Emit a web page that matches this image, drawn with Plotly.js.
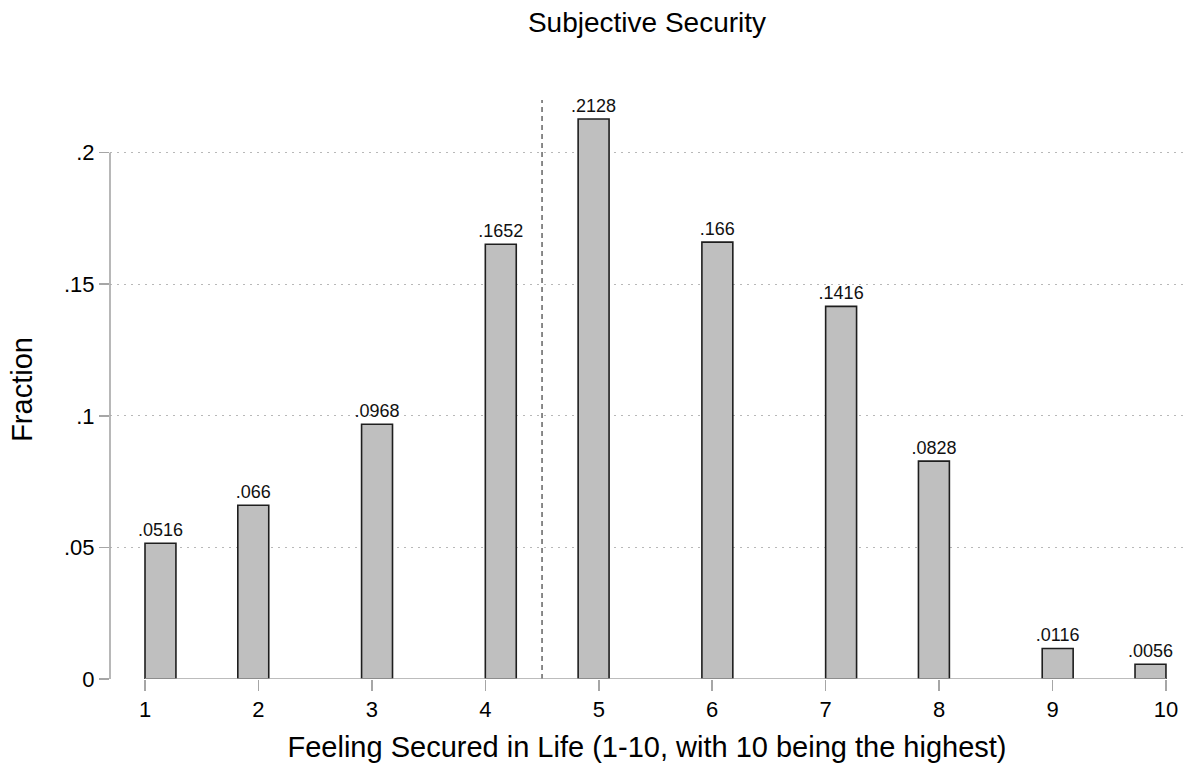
<!DOCTYPE html>
<html>
<head>
<meta charset="utf-8">
<script src="https://cdn.plot.ly/plotly-3.0.1.min.js"></script>
<style>
  html, body { margin: 0; padding: 0; background: #ffffff; }
  #chart { width: 1184px; height: 763px; }
</style>
</head>
<body>
<div id="chart"></div>
<script>
// ---- data ----
const scores = [1, 2, 3, 4, 5, 6, 7, 8, 9, 10];
const fractions = [0.0516, 0.066, 0.0968, 0.1652, 0.2128, 0.166, 0.1416, 0.0828, 0.0116, 0.0056];
const xTickVals = [1, 2, 3, 4, 5, 6, 7, 8, 9, 10];
const xTickText = ['1', '2', '3', '4', '5', '6', '7', '8', '9', '10'];
const yTickVals = [0, 0.05, 0.1, 0.15, 0.2];
const yTickText = ['0', '.05', '.1', '.15', '.2'];
const referenceLine = 4.5;

// histogram binning (33 bins from 1 to 10)
const binStart = 1, binEnd = 10, nBins = 33;
const binWidth = (binEnd - binStart) / nBins;
const barX = scores.map(v => {
  let idx = Math.floor((v - binStart) / binWidth + 1e-9);
  if (idx > nBins - 1) idx = nBins - 1;
  return binStart + (idx + 0.5) * binWidth;
});
const labels = fractions.map(f => String(f).replace(/^0\./, '.'));

const FONT = 'Liberation Sans, Arial, Helvetica, sans-serif';
const AXIS_GREY = '#a6a6a6';

const trace = {
  type: 'bar',
  x: barX,
  y: fractions,
  width: binWidth,
  text: labels,
  textposition: 'outside',
  constraintext: 'none',
  cliponaxis: false,
  textfont: { family: FONT, size: 18, color: '#111111' },
  marker: { color: '#bfbfbf', line: { color: '#1e1e1e', width: 1.6 } },
  hoverinfo: 'x+y',
  showlegend: false
};

const layout = {
  width: 1184,
  height: 763,
  paper_bgcolor: '#ffffff',
  plot_bgcolor: '#ffffff',
  margin: { l: 110, r: 0, t: 100, b: 84 },
  font: { family: FONT, color: '#000000' },
  title: {
    text: 'Subjective Security',
    font: { family: FONT, size: 28, color: '#000000' },
    x: 0.5, xref: 'paper', xanchor: 'center',
    y: 1 - 22 / 763, yref: 'container', yanchor: 'middle'
  },
  bargap: 0,
  xaxis: {
    range: [1 - 35 / 113.44, 1 + 1039 / 113.44],
    tickvals: xTickVals,
    ticktext: xTickText,
    ticks: 'outside',
    ticklen: 11,
    tickwidth: 1.5,
    tickcolor: AXIS_GREY,
    tickfont: { family: FONT, size: 22, color: '#000000' },
    showgrid: false,
    zeroline: false,
    showline: false,
    automargin: false,
    title: {
      text: 'Feeling Secured in Life (1-10, with 10 being the highest)',
      font: { family: FONT, size: 29, color: '#000000' },
      standoff: 17
    }
  },
  yaxis: {
    range: [0, 0.22],
    tickvals: yTickVals,
    ticktext: yTickText,
    ticks: 'outside',
    ticklen: 10,
    tickwidth: 1.5,
    tickcolor: AXIS_GREY,
    tickfont: { family: FONT, size: 22, color: '#000000' },
    showgrid: true,
    gridcolor: '#b8b8b8',
    gridwidth: 1.2,
    griddash: '2px,5px',
    zeroline: false,
    showline: false,
    automargin: false,
    title: {
      text: 'Fraction',
      font: { family: FONT, size: 29, color: '#000000' },
      standoff: 22
    }
  },
  shapes: [
    { type: 'line', xref: 'paper', yref: 'y', x0: 0, x1: 0, y0: 0, y1: yTickVals[yTickVals.length - 1],
      line: { color: AXIS_GREY, width: 1.6 }, layer: 'above' },
    { type: 'line', xref: 'x', yref: 'y', x0: xTickVals[0], x1: xTickVals[xTickVals.length - 1], y0: 0, y1: 0,
      line: { color: AXIS_GREY, width: 1.6 }, layer: 'above' },
    { type: 'line', xref: 'x', yref: 'paper', x0: referenceLine, x1: referenceLine, y0: 0, y1: 1,
      line: { color: '#6e6e6e', width: 1.6, dash: '5px,4px' }, layer: 'below' }
  ]
};

Plotly.newPlot('chart', [trace], layout, { displayModeBar: false, staticPlot: true });
</script>
</body>
</html>
